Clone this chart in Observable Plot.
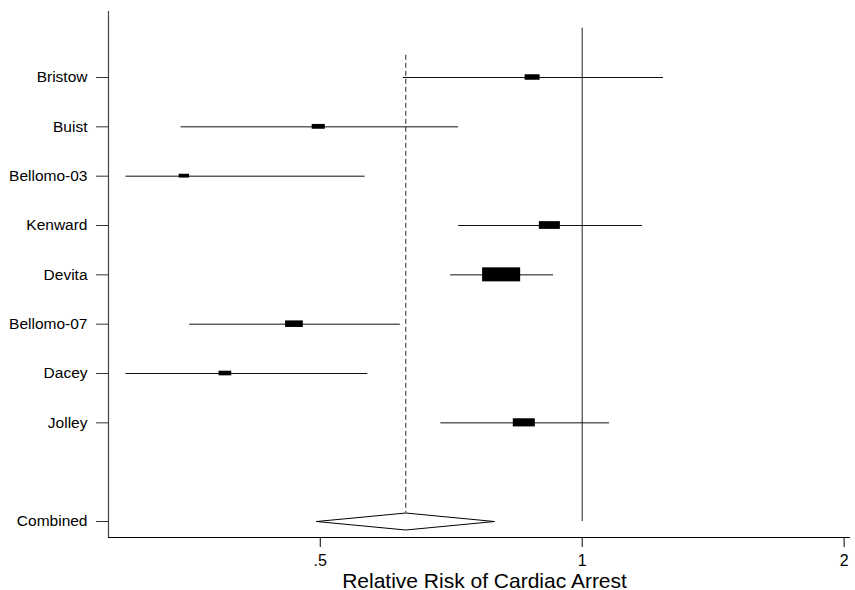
<!DOCTYPE html>
<html><head><meta charset="utf-8">
<script src="https://cdn.jsdelivr.net/npm/d3@7"></script>
<script src="https://cdn.jsdelivr.net/npm/@observablehq/plot@0.6"></script>
<style>body{margin:0;background:#fff} svg{display:block}</style>
</head><body><div id="chart"></div>
<script>
// ---- data ----
const studies = ["Bristow", "Buist", "Bellomo-03", "Kenward", "Devita", "Bellomo-07", "Dacey", "Jolley"];
const rr      = [0.877, 0.498, 0.349, 0.918, 0.808, 0.467, 0.389, 0.858];
const lower   = [0.623, 0.346, 0.299, 0.721, 0.706, 0.354, 0.299, 0.688];
const upper   = [1.240, 0.721, 0.563, 1.173, 0.927, 0.618, 0.567, 1.075];
const weight  = [6.7, 5.1, 3.2, 13.2, 43.2, 9.4, 4.8, 14.5]; // % weight (box size)
const pooledLabel = "Combined";
const pooledRR = 0.627, pooledLo = 0.495, pooledHi = 0.793;
const xTicks = [0.5, 1, 2];
const xTickLabels = [".5", "1", "2"];
const xTitle = "Relative Risk of Cardiac Arrest";

// ---- layout constants ----
const W = 855, H = 590;
const combinedRow = 10;
const yDomain = [-0.338, 10.324];
const xDomain = [0.2855, 2.034];
const boxK = 0.01105;     // half-width in log2 units per sqrt(weight)
const boxAspect = 0.0216; // half-height in rows per sqrt(weight)
const diamondHalf = 0.172;

const rows = studies.map((s, i) => ({
  study: s, row: i + 1, rr: rr[i], lo: lower[i], hi: upper[i], w: weight[i]
}));
const boxes = rows.map(d => {
  const hw = boxK * Math.sqrt(d.w);
  const hh = boxAspect * Math.sqrt(d.w);
  return {x1: d.rr * Math.pow(2, -hw), x2: d.rr * Math.pow(2, hw), y1: d.row - hh, y2: d.row + hh};
});
const diamond = [
  {x: pooledLo, y: combinedRow},
  {x: pooledRR, y: combinedRow - diamondHalf},
  {x: pooledHi, y: combinedRow},
  {x: pooledRR, y: combinedRow + diamondHalf},
  {x: pooledLo, y: combinedRow}
];
const yTickVals = [...rows.map(d => d.row), combinedRow];
const yTickNames = new Map([...rows.map(d => [d.row, d.study]), [combinedRow, pooledLabel]]);
const xTickNames = new Map(xTicks.map((t, i) => [t, xTickLabels[i]]));

const chart = Plot.plot({
  width: W, height: H,
  marginLeft: 108, marginRight: 5, marginTop: 11, marginBottom: 53,
  style: {fontFamily: "'Liberation Sans', Arial, sans-serif", background: "#fff", color: "#000"},
  x: {type: "log", domain: xDomain, label: null},
  y: {type: "linear", domain: yDomain, reverse: true, label: null},
  marks: [
    Plot.axisY({ticks: yTickVals, tickFormat: d => yTickNames.get(d), tickSize: 12, tickPadding: 9,
      fontSize: 15.5, stroke: "#333", label: null}),
    Plot.axisX({ticks: xTicks, tickFormat: d => xTickNames.get(d), tickSize: 10, tickPadding: 7,
      fontSize: 16, stroke: "#000", label: null}),
    Plot.ruleX([xDomain[0]], {stroke: "#444", strokeWidth: 1.2}),
    Plot.ruleY([yDomain[1]], {stroke: "#000"}),
    Plot.ruleX([1], {y1: 0, y2: combinedRow, stroke: "#222"}),
    Plot.ruleX([pooledRR], {y1: 0.55, y2: combinedRow - diamondHalf, stroke: "#222", strokeDasharray: "5,3"}),
    Plot.ruleY(rows, {y: "row", x1: "lo", x2: "hi", stroke: "#111", strokeWidth: 1}),
    Plot.rect(boxes, {x1: "x1", x2: "x2", y1: "y1", y2: "y2", fill: "#000"}),
    Plot.line(diamond, {x: "x", y: "y", stroke: "#000", strokeWidth: 1, fill: "#fff"}),
    Plot.text([xTitle], {frameAnchor: "bottom", text: d => d, dy: 50, dx: 5, lineAnchor: "bottom",
      fontSize: 21, fill: "#000"})
  ]
});
document.getElementById("chart").appendChild(chart);
</script>
</body></html>
